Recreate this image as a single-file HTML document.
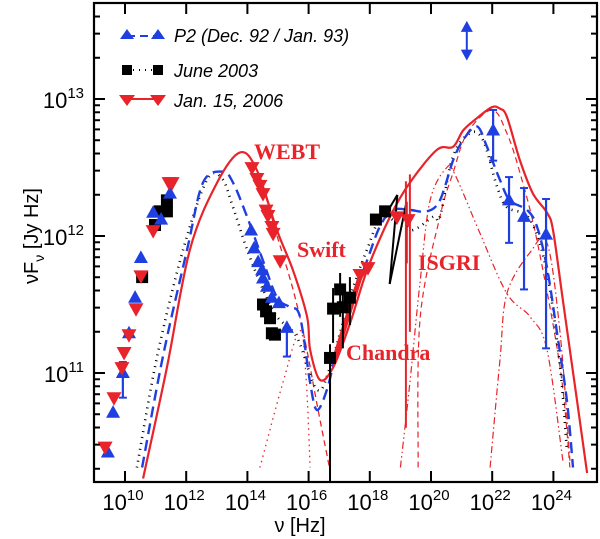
<!DOCTYPE html>
<html><head><meta charset="utf-8"><style>
html,body{margin:0;padding:0;background:#fff;}
svg{display:block;font-family:"Liberation Sans",sans-serif;}
.lbl{font-family:"Liberation Serif",serif;font-weight:bold;fill:#e8232a;font-size:22px;}
</style></head><body>
<svg id="chart" width="600" height="539" viewBox="0 0 600 539"></svg>
<script>
// ---- data (log10 nu, log10 nuFnu) ----
const xTickExps = [10, 12, 14, 16, 18, 20, 22, 24];
const yTickExps = [11, 12, 13];
const redModelX = [10.59,11.37,12.12,13.01,13.76,14.31,14.97,15.49,15.95,16.05,16.37,16.80,17.35,17.91,18.66,19.31,20.20,20.72,21.05,21.50,21.99,22.25,22.48,22.91,23.33,23.79,23.99,24.31,24.77,25.10];
const redModelY = [10.23,11.04,11.90,12.39,12.61,12.48,12.04,11.75,11.41,11.17,10.95,11.04,11.36,11.75,12.14,12.39,12.63,12.65,12.77,12.86,12.94,12.93,12.87,12.55,12.31,12.17,12.04,11.53,10.80,10.27];
const blueModelX = [10.56,11.24,12.03,12.55,13.20,13.53,13.99,14.51,14.97,15.39,15.72,16.05,16.27,16.60,16.93,17.35,17.91,18.33,18.76,19.31,19.87,20.29,20.72,21.05,21.50,21.83,22.25,22.58,23.14,23.46,23.79,24.12,24.44,24.64];
const blueModelY = [10.31,11.12,11.90,12.39,12.47,12.39,12.14,11.82,11.55,11.48,11.41,10.93,10.73,10.88,11.17,11.48,11.82,12.07,12.19,12.19,12.18,12.26,12.55,12.70,12.80,12.65,12.41,12.26,12.19,12.07,11.77,11.29,10.80,10.31];
const blackModelX = [10.39,11.05,11.90,12.68,13.17,13.53,13.99,14.51,14.97,15.62,16.27,16.70,17.35,17.91,18.43,19.31,20.07,20.29,20.72,21.27,21.70,22.16,22.48,23.24,23.79,24.22,24.44];
const blackModelY = [10.31,11.12,11.90,12.41,12.42,12.21,11.90,11.61,11.41,11.26,10.88,11.04,11.55,11.90,12.14,12.04,12.14,12.14,12.58,12.75,12.70,12.36,12.21,12.12,11.73,11.04,10.44];
const syncX = [10.59,11.37,12.12,13.01,13.76,14.31,14.97,15.49,15.88,16.31,16.70];
const syncY = [10.23,11.04,11.90,12.39,12.61,12.48,12.00,11.61,11.24,10.73,10.29];
const diskX = [14.41,15.16,15.72,15.92,16.05];
const diskY = [10.31,10.93,11.31,10.95,10.31];
const ec1X = [19.0,19.31,19.64,19.97,20.52,20.78,21.60,22.48,23.24,23.79,24.31];
const ec1Y = [10.31,10.93,11.66,12.26,12.50,12.45,12.02,11.58,11.41,11.17,10.36];
const ec2X = [21.93,22.25,22.48,23.24,23.79,24.22,24.54];
const ec2Y = [10.31,11.09,11.58,11.88,11.95,11.29,10.36];
const ec3X = [19.58,19.64,20.29,20.72,21.18,21.99,22.48,22.91,23.46,24.22,24.54];
const ec3Y = [10.31,11.39,12.14,12.46,12.75,12.92,12.75,12.46,11.97,11.04,10.31];
const bluePtsX = [9.44,9.61,9.93,10.13,10.33,10.52,10.92,11.18,11.47,14.12,14.22,14.35,14.48,14.51,14.64,14.80,15.03,15.29,22.03,22.55,23.04,23.76];
const bluePtsY = [10.42,10.71,11.00,11.29,11.55,11.84,12.17,12.12,12.31,12.04,11.91,11.81,11.75,11.69,11.63,11.55,11.51,11.33,12.77,12.26,12.14,12.01];
const blueErrLo = [0,0,0.18,0,0,0,0,0,0,0,0,0,0,0,0,0,0,0.21,0.22,0.31,0.53,0.83];
const blueErrHi = [0,0,0.08,0,0,0,0,0,0,0,0,0,0,0,0,0,0,0,0.15,0.17,0.21,0.26];
const blackPtsX = [10.56,10.98,11.14,11.37,11.37,14.51,14.61,14.74,14.80,14.90,16.70,16.80,17.03,17.12,17.35,18.20,18.50];
const blackPtsY = [11.70,12.08,12.18,12.18,12.26,11.50,11.45,11.40,11.29,11.28,11.11,11.47,11.61,11.48,11.55,12.12,12.18];
const blackErrLo = [0,0,0,0,0,0,0,0,0,0,0.35,0.25,0.2,0.3,0.2,0,0];
const blackErrHi = [0,0,0,0,0,0,0,0,0,0,0.1,0.15,0.12,0.1,0.15,0,0];
const redPtsX = [9.35,9.64,9.90,9.97,10.13,10.36,10.52,10.92,11.44,11.54,14.15,14.31,14.41,14.51,14.61,14.67,14.80,14.84,15.07,17.68,17.94,18.89,19.25];
const redPtsY = [10.46,10.82,11.04,11.15,11.28,11.47,11.71,12.04,12.39,12.39,12.50,12.42,12.37,12.31,12.19,12.15,12.07,12.02,11.82,11.72,11.77,12.14,12.12];

const svg = document.getElementById('chart');
const NS = 'http://www.w3.org/2000/svg';
const X0 = 125, XS = 30.6, Y0 = 373, YS = 137;
const L = 94, R = 597, T = 3, B = 482;
function sx(d){ return X0 + XS*(d-10); }
function sy(l){ return Y0 - YS*(l-11); }
function mk(tag, attrs, parent){
  const e = document.createElementNS(NS, tag);
  for (const k in attrs) e.setAttribute(k, attrs[k]);
  (parent||svg).appendChild(e);
  return e;
}
const defs = mk('defs', {});
const cp = mk('clipPath', {id:'clip'}, defs);
mk('rect', {x:L, y:T, width:R-L, height:B-T}, cp);
const plot = mk('g', {'clip-path':'url(#clip)'});



function smoothPath(xs, ys){
  const P = xs.map((x,i)=>[sx(x), sy(ys[i])]);
  let d = 'M'+P[0][0].toFixed(1)+' '+P[0][1].toFixed(1);
  for (let i=0;i<P.length-1;i++){
    const p0=P[Math.max(0,i-1)], p1=P[i], p2=P[i+1], p3=P[Math.min(P.length-1,i+2)];
    const c1=[p1[0]+(p2[0]-p0[0])/6, p1[1]+(p2[1]-p0[1])/6];
    const c2=[p2[0]-(p3[0]-p1[0])/6, p2[1]-(p3[1]-p1[1])/6];
    d += ` C${c1[0].toFixed(1)} ${c1[1].toFixed(1)} ${c2[0].toFixed(1)} ${c2[1].toFixed(1)} ${p2[0].toFixed(1)} ${p2[1].toFixed(1)}`;
  }
  return d;
}
function curve(xs, ys, color, w, dash, name){
  const p = mk('path', {d:smoothPath(xs, ys), fill:'none', stroke:color, 'stroke-width':w, 'stroke-dasharray':dash, 'stroke-linejoin':'round'}, plot);
  
  
}
curve(diskX, diskY, '#e8232a', 1.3, '1.5 4', 'disk-component');
curve(syncX, syncY, '#e8232a', 1.3, '6 4', 'synchrotron-component');
curve(ec1X, ec1Y, '#e8232a', 1.2, '7 3 1.5 3 1.5 3', 'ec-disk-component');
curve(ec2X, ec2Y, '#e8232a', 1.2, '7 3 1.5 3', 'ec-blr-component');
curve(ec3X, ec3Y, '#e8232a', 1.2, '6 4', 'ec-dust-component');
curve(blackModelX, blackModelY, '#000', 2.6, '1 5', 'june-2003-model');
curve(blueModelX, blueModelY, '#1f3fe0', 2.4, '11 6', 'p2-model');
curve(redModelX, redModelY, '#e8232a', 2.2, 'none', 'jan-2006-model');

function seg(x1,y1,x2,y2,c,w,name){
  const l = mk('line',{x1:x1,y1:y1,x2:x2,y2:y2,stroke:c,'stroke-width':w},plot);
  
  
}
seg(sx(16.70),sy(11.12),sx(16.70),B,'#000',2,'upper-limit-line');
seg(sx(18.5),sy(12.15),sx(18.9),sy(12.3),'#000',2,'bowtie-edge');
seg(sx(18.9),sy(12.3),sx(18.65),sy(11.65),'#000',2,'bowtie-edge');
seg(sx(18.65),sy(11.65),sx(19.2),sy(12.25),'#000',2,'bowtie-edge');
seg(sx(19.2),sy(12.25),sx(19.2),sy(11.8),'#000',2,'bowtie-edge');
seg(sx(16.8),sy(11.07),sx(17.68),sy(11.70),'#e8232a',5,'chandra-bowtie');
seg(sx(19.18),sy(12.4),sx(19.18),sy(10.6),'#e8232a',2,'isgri-error');
seg(sx(19.31),sy(12.45),sx(19.31),sy(11.3),'#e8232a',2,'isgri-error');
seg(sx(21.17),sy(13.50),sx(21.17),sy(13.35),'#1f3fe0',2,'egret-arrow');

function tri(cx, cy, up, color, s, name){
  const h = s*0.9;
  const pts = up ? [[cx,cy-h*0.6],[cx-s/2,cy+h*0.4],[cx+s/2,cy+h*0.4]] : [[cx,cy+h*0.6],[cx-s/2,cy-h*0.4],[cx+s/2,cy-h*0.4]];
  const p = mk('polygon',{points:pts.map(p=>p.join(',')).join(' '),fill:color},plot);
  
  
}
mk('polygon',{points:`${sx(21.17)},${sy(13.57)} ${sx(21.17)-6},${sy(13.49)} ${sx(21.17)+6},${sy(13.49)}`,fill:'#1f3fe0'},plot);
mk('polygon',{points:`${sx(21.17)},${sy(13.28)} ${sx(21.17)-6},${sy(13.36)} ${sx(21.17)+6},${sy(13.36)}`,fill:'#1f3fe0'},plot);

blackPtsX.forEach((x,i)=>{
  const cx=sx(x), cy=sy(blackPtsY[i]);
  if (blackErrLo[i]||blackErrHi[i]) {
    seg(cx,sy(blackPtsY[i]-blackErrLo[i]),cx,sy(blackPtsY[i]+blackErrHi[i]),'#000',2,'june-2003-errorbar');
  }
  const r = mk('rect',{x:cx-6,y:cy-6,width:12,height:12,fill:'#000'},plot);
  
  
});
bluePtsX.forEach((x,i)=>{
  const cx=sx(x), cy=sy(bluePtsY[i]);
  if (blueErrLo[i]||blueErrHi[i]) {
    seg(cx,sy(bluePtsY[i]-blueErrLo[i]),cx,sy(bluePtsY[i]+blueErrHi[i]),'#1f3fe0',2.2,'p2-errorbar');
    seg(cx-4,sy(bluePtsY[i]-blueErrLo[i]),cx+4,sy(bluePtsY[i]-blueErrLo[i]),'#1f3fe0',2,'p2-errorcap');
    seg(cx-4,sy(bluePtsY[i]+blueErrHi[i]),cx+4,sy(bluePtsY[i]+blueErrHi[i]),'#1f3fe0',2,'p2-errorcap');
  }
  tri(cx,cy,true,'#1f3fe0',14,'p2-point');
});
redPtsX.forEach((x,i)=>{
  tri(sx(x),sy(redPtsY[i]),false,'#e8232a',15,'jan-2006-point');
});

const fr = mk('rect',{x:L,y:T,width:R-L,height:B-T,fill:'none',stroke:'#000','stroke-width':2.2});


const axG = mk('g',{stroke:'#000','stroke-width':2});


xTickExps.forEach(e=>{
  const x=sx(e);
  mk('line',{x1:x,y1:B,x2:x,y2:B-11},axG);
  mk('line',{x1:x,y1:T,x2:x,y2:T+11},axG);
  const t = mk('text',{x:x-2,y:510,'text-anchor':'middle','font-size':22,fill:'#000'});
  
  
  t.innerHTML = `10<tspan dy="-10" font-size="15">${e}</tspan>`;
});
for (let dec=10; dec<=13; dec++){
  for (let m=1; m<=9; m++){
    const l = dec + Math.log10(m);
    const y = sy(l);
    if (y<T+1||y>B-1) continue;
    const len = m===1?11:6;
    mk('line',{x1:L,y1:y,x2:L+len,y2:y},axG);
    mk('line',{x1:R,y1:y,x2:R-len,y2:y},axG);
  }
}
yTickExps.forEach(e=>{
  const t = mk('text',{x:84,y:sy(e)+9,'text-anchor':'end','font-size':22,fill:'#000'});
  
  
  t.innerHTML = `10<tspan dy="-10" font-size="15">${e}</tspan>`;
});
</script>
<svg width="600" height="539" style="position:absolute;left:0;top:0;pointer-events:none">
  <text x="300" y="532" text-anchor="middle" font-size="20" font-family="Liberation Sans, sans-serif">ν [Hz]</text>
  <text transform="translate(38,236) rotate(-90)" text-anchor="middle" font-size="20" font-family="Liberation Sans, sans-serif">νF<tspan dy="6" font-size="14">ν</tspan><tspan dy="-6"> [Jy Hz]</tspan></text>
  <text class="lbl" x="254" y="159">WEBT</text>
  <text class="lbl" x="297" y="257">Swift</text>
  <text class="lbl" x="418" y="270">ISGRI</text>
  <text class="lbl" x="346" y="360">Chandra</text>
  <g font-family="Liberation Sans, sans-serif" font-style="italic" font-size="18">
    <g>
      <line x1="127" y1="36" x2="158" y2="36" stroke="#1f3fe0" stroke-width="2" stroke-dasharray="8 5"/>
      <polygon points="127,29 120,39 134,39" fill="#1f3fe0"/><polygon points="158,29 151,39 165,39" fill="#1f3fe0"/>
      <text x="174" y="42">P2 (Dec. 92 / Jan. 93)</text>
    </g>
    <g>
      <line x1="127" y1="70" x2="158" y2="70" stroke="#000" stroke-width="2" stroke-dasharray="1 5"/>
      <rect x="122" y="65" width="10" height="10"/><rect x="153" y="65" width="10" height="10"/>
      <text x="174" y="77">June 2003</text>
    </g>
    <g>
      <line x1="127" y1="99" x2="158" y2="99" stroke="#e8232a" stroke-width="2"/>
      <polygon points="127,106 119,95 135,95" fill="#e8232a"/><polygon points="158,106 150,95 166,95" fill="#e8232a"/>
      <text x="174" y="107">Jan. 15, 2006</text>
    </g>
  </g>
</svg>
</body></html>
